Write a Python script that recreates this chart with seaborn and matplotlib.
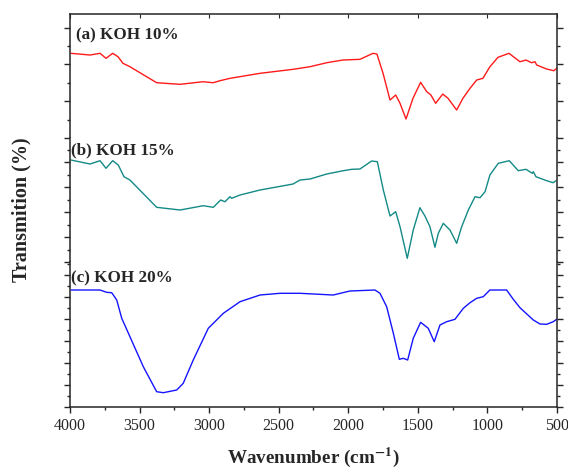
import matplotlib
matplotlib.use("Agg")
import matplotlib.pyplot as plt
import seaborn as sns
import pandas as pd
from matplotlib.ticker import MultipleLocator

# FTIR spectra (wavenumber in cm-1, transmission in arbitrary units)
wn_a = [3993, 3856, 3784, 3741, 3693, 3655, 3619, 3569, 3377, 3209, 3044, 2972, 2922,
        2850, 2634, 2397, 2275, 2155, 2038, 1916, 1822, 1794, 1750, 1700, 1659, 1628,
        1585, 1535, 1480, 1436, 1406, 1372, 1321, 1283, 1221, 1176, 1125, 1077, 1032,
        982, 924, 845, 766, 723, 682, 658, 646, 574, 522, 502]
t_a = [84.7, 83, 84.7, 79.7, 84.7, 81.3, 74.7, 71.3, 55.3, 53.7, 56.3, 55.3, 57.3,
       59.7, 64.7, 68.7, 71.3, 75.3, 78, 78.7, 84.7, 84, 64.7, 38, 43, 34.7,
       19, 39.7, 55.7, 46.3, 43, 34.7, 44, 39.7, 28, 39.7, 49.7, 58, 59.7,
       71.3, 80.7, 84.7, 76.3, 78, 75.3, 76.3, 73, 69, 67.3, 69.7]

wn_b = [3993, 3856, 3784, 3741, 3693, 3653, 3612, 3569, 3377, 3209, 3042, 2970, 2917,
        2886, 2850, 2838, 2778, 2634, 2397, 2347, 2275, 2155, 2036, 1975, 1916, 1832,
        1791, 1748, 1700, 1659, 1628, 1576, 1533, 1485, 1449, 1413, 1377, 1353, 1317,
        1269, 1221, 1185, 1137, 1089, 1053, 1017, 982, 922, 843, 778, 723, 677, 670,
        651, 574, 527, 507]
t_b = [102, 98, 101.3, 93.7, 101.3, 97, 85.3, 82, 54.7, 52, 56.3, 54.7, 62,
       60.3, 65.3, 63.7, 67, 72, 78, 82, 83, 88, 91.3, 92.7, 93, 101,
       100.3, 72, 46, 50.3, 35.3, 3.7, 32, 54.3, 46, 35.3, 14.7, 28.7, 38.7,
       32, 18.7, 35.3, 52, 65.3, 64.3, 70.3, 87, 98.7, 101.3, 91.3, 92.7, 88.7, 90.3,
       85.3, 81.3, 79.3, 81.3]

wn_c = [3993, 3784, 3736, 3700, 3664, 3628, 3569, 3473, 3377, 3329, 3233, 3186, 3114,
        3006, 2898, 2778, 2634, 2491, 2347, 2108, 1988, 1808, 1772, 1724, 1676, 1633,
        1605, 1573, 1533, 1480, 1425, 1382, 1341, 1293, 1233, 1173, 1125, 1077, 1030,
        982, 862, 814, 766, 670, 622, 574, 527, 502]
t_c = [117, 117, 114.7, 114.3, 107, 88.7, 70.3, 40.3, 15.3, 14.3, 17, 23.7, 47,
       78.7, 93.7, 105.3, 112, 113.7, 113.7, 112, 116, 117, 113.7, 100.3, 73.7, 47.7,
       48.7, 47, 68.7, 84.7, 78.7, 65.3, 82, 85.3, 87.7, 98.7, 104.3, 108.7, 110.3,
       117, 117, 107.7, 99.3, 87, 83, 82.7, 85.3, 87.7]

labels = ["(a) KOH 10%", "(b) KOH 15%", "(c) KOH 20%"]
colors = ["#ff1a1a", "#138a86", "#1414ff"]

sns.set_style("ticks")
plt.rcParams["font.family"] = ["Liberation Serif", "DejaVu Serif"]
plt.rcParams["mathtext.fontset"] = "stix"

fig, axes = plt.subplots(3, 1, figsize=(5.68, 4.69), dpi=100, sharex=True,
                         gridspec_kw={"height_ratios": [124, 124, 145], "hspace": 0})
fig.subplots_adjust(left=0.1232, right=0.9806, top=0.9701, bottom=0.1322)

series = [(wn_a, t_a), (wn_b, t_b), (wn_c, t_c)]
ylims = [(0, 124), (0, 124), (0, 145)]
ystep = [18.4, 12.5, 11.0]
label_y = [0.83, 0.90, 0.89]
label_x = [0.012, 0.002, 0.002]

for i, ax in enumerate(axes):
    wn, t = series[i]
    df = pd.DataFrame({"wn": wn, "t": t})
    sns.lineplot(data=df, x="wn", y="t", ax=ax, color=colors[i], lw=1.0,
                 estimator=None, sort=True)
    ax.set_ylim(*ylims[i])
    ax.set_xlim(4000, 500)
    ax.set_xlabel("")
    ax.set_ylabel("")
    ax.yaxis.set_major_locator(MultipleLocator(ystep[i] * 2))
    ax.yaxis.set_minor_locator(MultipleLocator(ystep[i]))
    ax.tick_params(axis="y", which="both", left=True, right=True, labelleft=False,
                   direction="out", width=1)
    ax.tick_params(axis="y", which="major", length=4)
    ax.tick_params(axis="y", which="minor", length=2.5)
    for s in ax.spines.values():
        s.set_linewidth(1.1)
    if i > 0:
        ax.spines["top"].set_visible(False)
    if i < 2:
        ax.spines["bottom"].set_visible(False)
        ax.tick_params(axis="x", which="both", bottom=False)
    ax.text(label_x[i], label_y[i], labels[i], transform=ax.transAxes,
            fontsize=12.3, fontweight="bold", va="center", ha="left")

axes[0].tick_params(axis="x", which="major", top=True, direction="in", length=3)
axes[0].tick_params(axis="x", which="minor", top=False)
axes[2].xaxis.set_major_locator(MultipleLocator(500))
axes[2].xaxis.set_minor_locator(MultipleLocator(250))
axes[2].tick_params(axis="x", which="both", bottom=True, direction="out", width=1,
                    labelsize=11.5)
axes[2].tick_params(axis="x", which="major", length=4.5)
axes[2].tick_params(axis="x", which="minor", length=2.5)

fig.text(0.551, 0.024, "Wavenumber (cm$^{\\mathbf{-1}}$)", ha="center", va="center",
         fontsize=13.8, fontweight="bold")
fig.text(0.037, 0.552, "Transmition (%)", ha="center", va="center", rotation=90,
         fontsize=14.5, fontweight="bold")

fig.savefig("out.png", dpi=100)
